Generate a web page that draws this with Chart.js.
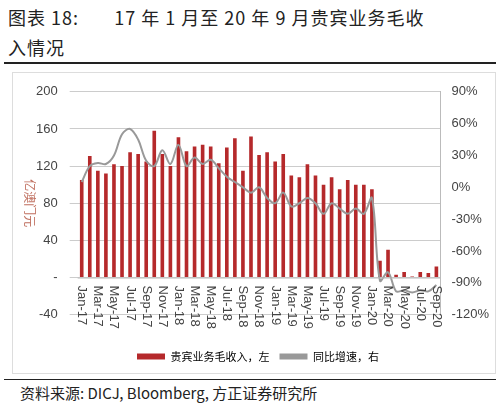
<!DOCTYPE html>
<html><head><meta charset="utf-8">
<script src="https://cdn.jsdelivr.net/npm/chart.js@4"></script>
<style>
body{margin:0;width:500px;height:410px;background:#fff;font-family:"Noto Sans CJK SC";position:relative;overflow:hidden}
#t{position:absolute;left:8px;top:2px;font-size:18px;line-height:30px;color:#222;letter-spacing:1px}
#l1{position:absolute;left:4px;right:4px;top:62px;border-top:2px solid #222}
#box{position:absolute;left:12px;top:72px;width:482px;height:300px;border:1px solid #ddd}
#l2{position:absolute;left:4px;right:4px;top:379px;border-top:1px solid #222}
#s{position:absolute;left:20px;top:382px;font-size:15px;color:#222}
#c{position:absolute;left:12px;top:72px}
</style></head><body>
<div id="t">图表 18:&nbsp;&nbsp;&nbsp;&nbsp;&nbsp;&nbsp;&nbsp;17 年 1 月至 20 年 9 月贵宾业务毛收<br>入情况</div>
<div id="l1"></div><div id="box"></div>
<canvas id="c" width="482" height="300"></canvas>
<div id="l2"></div>
<div id="s">资料来源: DICJ, Bloomberg, 方正证券研究所</div>
<script>
const months=["Jan","Feb","Mar","Apr","May","Jun","Jul","Aug","Sep","Oct","Nov","Dec"];
const labels=[];for(let y=17;y<=20;y++)for(let m=0;m<12;m++){if(y===20&&m>8)break;labels.push(months[m]+"-"+y);}
const revenue=[105,131,115,112,122,120,135,133,125,158,133,120,151,136,141,143,141,123,140,150,115,152,132,135,125,133,110,108,122,110,100,108,95,105,100,100,95,18,30,3,6,1,6,5,12];
const yoy=[5,20,23,22,30,50,55,45,25,20,35,22,40,20,28,22,26,18,10,5,0,-5,0,-10,-15,-5,-18,-15,-10,-15,-25,-15,-20,-25,-20,-25,-10,-88,-80,-98,-97,-99,-97,-98,-92];
const leftTicks=[-40,0,40,80,120,160,200];
const rightTicks=[-120,-90,-60,-30,0,30,60,90];
const flip={id:'flip',afterDraw(ch){const c=ch.ctx,x=ch.scales.x,y=ch.scales.y;const y0=y.getPixelForValue(0);c.save();
c.strokeStyle='#bbb';c.lineWidth=1;c.beginPath();c.moveTo(x.left,y0+0.5);c.lineTo(x.right,y0+0.5);c.stroke();
c.fillStyle='#444';c.font='13px "Liberation Sans"';c.textBaseline='middle';c.textAlign='left';
labels.forEach((l,i)=>{if(i%2)return;c.save();c.translate(x.getPixelForValue(i),y0+8);c.rotate(Math.PI/2);c.fillText(l,0,0);c.restore();});
c.font='12px "Noto Sans CJK SC"';c.fillStyle='#c07060';c.textAlign='center';c.translate(18,(y.top+y.bottom)/2);c.rotate(Math.PI/2);c.fillText('亿澳门元',0,0);c.restore();}};
new Chart(document.getElementById('c'),{data:{labels,datasets:[
{type:'bar',label:'贵宾业务毛收入，左',data:revenue,backgroundColor:'#b5292b',barPercentage:0.45,categoryPercentage:1,yAxisID:'y',order:2},
{type:'line',label:'同比增速，右',data:yoy,borderColor:'#999',borderWidth:2,pointRadius:0,tension:0.35,yAxisID:'y1',order:1}]},
plugins:[flip],
options:{responsive:false,animation:false,
layout:{padding:{top:12,right:2,left:12,bottom:0}},
plugins:{legend:{position:'bottom',labels:{font:{size:11,family:'Noto Sans CJK SC'},color:'#333',boxWidth:28,boxHeight:6,padding:10,
 generateLabels:(ch)=>ch.data.datasets.map((d,i)=>({text:d.label,fillStyle:i?'#999':'#b5292b',strokeStyle:i?'#999':'#b5292b',lineWidth:0,datasetIndex:i}))}},tooltip:{enabled:false}},
scales:{
x:{grid:{display:false},border:{display:false},ticks:{display:true,color:'rgba(0,0,0,0)',font:{size:10},callback:()=>' '}},
y:{min:-40,max:200,afterBuildTicks:a=>{a.ticks=leftTicks.map(v=>({value:v}))},grid:{color:'#ccc'},border:{display:false},
 ticks:{color:'#444',padding:12,font:{size:13,family:'Liberation Sans'},callback:v=>v===0?'-':v}},
y1:{position:'right',min:-120,max:90,afterBuildTicks:a=>{a.ticks=rightTicks.map(v=>({value:v}))},grid:{display:false},border:{color:'#bbb'},
 ticks:{color:'#444',font:{size:13,family:'Liberation Sans'},callback:v=>v+'%'}}}}});
</script></body></html>
